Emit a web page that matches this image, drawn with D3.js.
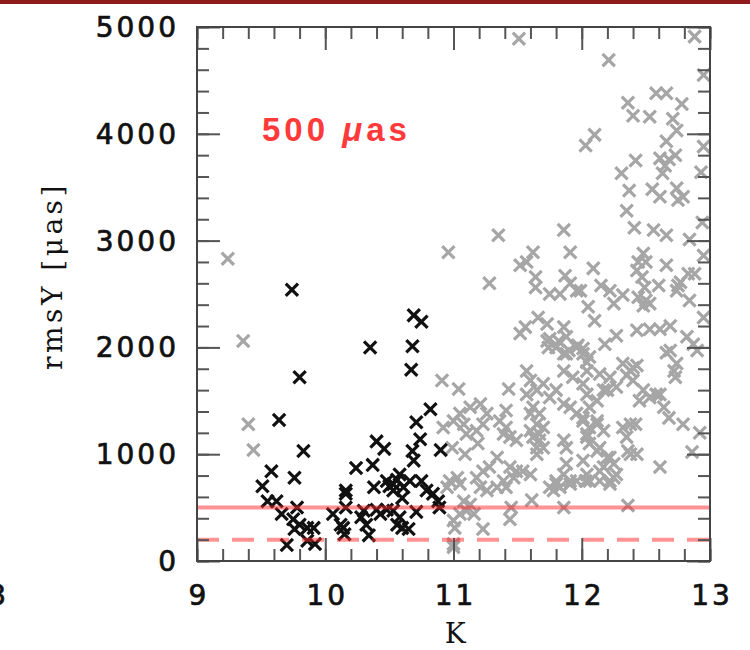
<!DOCTYPE html>
<html>
<head>
<meta charset="utf-8">
<script src="https://cdn.jsdelivr.net/npm/d3@7"></script>
<style>
  body { margin: 0; background: #fff; }
  svg { display: block; }
  .lbl { font-family: "DejaVu Serif", serif; font-size: 28px; fill: #111; }
  .num { font-family: "DejaVu Sans", sans-serif; letter-spacing: 3px; stroke: #111; stroke-width: 0.7px; }
  .ttl { letter-spacing: 3.5px; }
</style>
</head>
<body>
<div id="chart"></div>
<script>
// K magnitude vs rmsY [uas]
var grayPts = [
  [9.24,2830],[9.36,2060],[9.40,1280],[9.44,1040],
  [11.51,4890],[12.88,4910],[12.21,4690],[12.95,4550],[12.58,4380],[12.66,4380],[12.36,4290],[12.40,4170],
  [12.78,4280],[12.53,4160],[12.71,4140],[12.74,4030],[12.10,3990],[12.03,3890],[12.95,3880],[12.66,3930],
  [12.42,3750],[12.61,3770],[12.68,3760],[12.73,3800],[12.65,3700],[12.63,3630],[12.31,3630],[12.93,3640],
  [12.37,3470],[12.55,3480],[12.61,3410],[12.74,3490],[12.79,3410],[12.75,3380],[12.35,3280],[12.41,3120],
  [12.56,3100],[12.66,3050],[12.94,3170],[12.84,3010],[12.95,2860],[11.35,3050],[11.86,3100],[10.96,2890],
  [11.91,2890],[12.48,2880],[12.44,2800],[12.50,2800],[12.43,2720],[12.47,2660],[12.49,2560],[12.44,2470],
  [12.50,2440],[12.53,2410],[12.66,2770],[11.62,2890],[11.57,2800],[11.52,2770],[11.64,2660],[11.64,2560],
  [11.28,2600],[12.09,2740],[12.83,2690],[12.88,2690],[12.77,2610],[12.75,2580],[12.74,2530],[11.87,2670],
  [11.91,2600],[11.96,2530],[11.75,2500],[11.83,2500],[12.15,2580],[12.22,2530],[12.32,2490],[12.60,2580],
  [11.99,2530],[12.05,2380],[12.10,2250],[12.25,2410],[12.48,2390],[12.84,2440],[12.95,2280],
  [11.66,2280],[11.56,2190],[11.52,2130],[11.73,2220],[11.75,2080],[11.74,2000],[11.82,2060],[11.86,2190],
  [11.88,2100],[11.90,1970],[11.97,2020],[11.88,1940],[11.73,2060],[11.80,2000],[11.86,1940],[11.96,2000],
  [12.01,1940],[12.04,1860],[12.18,2030],[12.27,2110],[12.43,2160],[12.53,2170],[12.61,2170],[12.69,2200],
  [12.82,2100],[12.87,2030],[12.90,1970],[12.66,1950],[12.69,1970],[12.74,1850],[12.72,1780],[12.73,1720],
  [12.32,1850],[12.40,1810],[12.35,1740],[12.43,1830],[12.38,1780],[12.40,1690],[12.48,1600],[12.53,1530],
  [12.61,1560],[12.45,1500],[12.58,1560],[12.64,1440],[12.68,1340],[12.79,1280],[12.92,1200],[12.86,1020],
  [12.61,880],[12.01,1990],[12.06,1910],[12.04,1780],[12.14,1750],
  [11.57,1780],[11.60,1690],[11.65,1600],[11.57,1560],[11.70,1660],[11.75,1530],[11.80,1600],[11.86,1470],
  [11.86,1780],[11.93,1720],[12.01,1660],[12.04,1560],[12.12,1500],[12.17,1600],[12.22,1720],[12.27,1630],
  [12.20,1600],[11.91,1440],[11.96,1380],[12.01,1310],[12.06,1250],[12.12,1280],[12.17,1220],[12.06,1440],
  [12.12,1310],[12.32,1250],[12.38,1280],[12.35,1160],[12.38,1000],[12.43,1000],[12.42,1280],[12.36,1030],
  [12.06,1100],[12.12,1030],[12.20,970],[12.25,910],[12.27,810],[12.22,750],[12.17,880],[12.04,1160],
  [12.14,1060],[12.22,970],[12.14,840],[12.25,780],[12.22,720],[12.03,750],
  [11.86,1130],[11.88,1060],[11.88,910],[11.86,810],[11.80,720],[11.91,720],
  [11.67,1380],[11.65,1280],[11.70,1250],[11.62,1160],[11.67,1130],[11.65,1060],[11.60,1380],[12.01,1340],
  [12.04,1190],[11.36,1310],[11.41,1250],[11.44,1160],[11.39,1190],[11.49,1130],[11.43,1610],[11.41,1410],
  [11.21,1470],[11.26,1380],[11.23,1280],[11.13,1440],[11.05,1380],[11.00,1310],[10.92,1250],[11.08,1280],
  [11.10,1190],[11.18,1220],[11.04,1610],[10.91,1690],[11.19,1100],[11.09,1000],[10.99,1060],
  [11.34,970],[11.28,880],[11.23,840],[11.18,780],[11.21,690],[11.26,660],[11.34,690],[11.39,750],
  [11.44,880],[11.49,840],[11.54,840],[11.60,810],[11.47,780],[11.41,690],
  [10.97,750],[11.03,780],[11.05,720],[10.95,690],
  [11.08,560],[11.13,530],[11.10,470],[11.05,440],[11.16,440],[11.00,380],[11.01,310],[11.00,160],
  [11.00,130],[11.23,300],[11.45,500],[11.44,390],[11.61,570],[11.86,500],[12.36,520],
  [11.75,690],[11.80,750],[11.91,750],[11.83,690],[11.78,660],[11.96,750],
  [12.01,940],[12.04,810],[12.06,750],[12.14,750],
  [11.60,1220],[11.67,1190],[11.70,1060],[11.65,1000],[11.62,1440]
];
var blackPts = [
  [9.74,2540],[10.35,2000],[10.69,2300],[10.75,2240],[10.68,2010],[10.67,1790],[9.80,1720],[10.82,1420],
  [9.64,1320],[10.71,1300],[10.74,1140],[10.40,1120],[10.46,1050],[9.83,1030],[10.68,1030],[10.69,940],
  [10.90,1040],[10.24,870],[9.58,840],[10.37,900],[9.76,780],[9.51,700],[10.38,690],
  [10.48,750],[10.53,720],[10.58,810],[10.61,690],[10.66,750],[10.53,660],[10.60,590],[10.56,760],[10.50,700],
  [10.16,660],[10.16,630],[10.79,660],[10.84,630],[10.88,560],[10.75,750],
  [9.55,560],[9.62,560],[9.78,500],[9.66,440],[10.06,440],[10.16,500],[10.30,470],[10.28,410],[10.32,340],
  [10.43,440],[10.53,470],[10.58,410],[10.56,340],[10.71,460],[10.89,500],
  [9.75,390],[9.80,340],[9.76,300],[9.86,310],[9.91,310],[10.12,340],[10.14,310],[10.15,250],[10.34,240],
  [10.60,310],[10.65,300],[9.70,150],[9.86,190],[9.92,160],[10.48,480],[10.40,480]
];
var xMajor = [9, 10, 11, 12, 13];
var yMajor = [0, 1000, 2000, 3000, 4000, 5000];
var limitSolid = 500;
var limitDashed = 200;

var W = 750, H = 650;
var x = d3.scaleLinear().domain([9, 13]).range([197, 710]);
var y = d3.scaleLinear().domain([0, 5000]).range([561, 27]);
var xMinor = d3.range(9, 13.001, 0.2);
var yMinor = d3.range(0, 5001, 200);

var svg = d3.select("#chart").append("svg")
  .attr("width", W).attr("height", H);

// dark red strip along the top edge
svg.append("rect").attr("x", 0).attr("y", 0).attr("width", W).attr("height", 4)
  .attr("fill", "#8e1b1b");

// gray points, then black ones on top
var xMark = d3.symbol().type(d3.symbolX).size(100);
svg.append("g").selectAll("path").data(grayPts).enter().append("path")
  .attr("d", xMark)
  .attr("transform", d => "translate(" + x(d[0]) + "," + y(d[1]) + ")")
  .attr("fill", "none").attr("stroke", "#a6a6a6").attr("stroke-width", 3.2);
svg.append("g").selectAll("path").data(blackPts).enter().append("path")
  .attr("d", xMark)
  .attr("transform", d => "translate(" + x(d[0]) + "," + y(d[1]) + ")")
  .attr("fill", "none").attr("stroke", "#111").attr("stroke-width", 3.2);

// limit lines
svg.append("line")
  .attr("x1", x(9)).attr("x2", x(13))
  .attr("y1", y(limitSolid)).attr("y2", y(limitSolid))
  .attr("stroke", "rgba(255,40,40,0.5)").attr("stroke-width", 4);
svg.append("line")
  .attr("x1", x(9)).attr("x2", x(13))
  .attr("y1", y(limitDashed)).attr("y2", y(limitDashed))
  .attr("stroke", "rgba(255,40,40,0.5)").attr("stroke-width", 4)
  .attr("stroke-dasharray", "22,13");

// ticks on all four sides (inward)
function ticks(axis, tr, vals, len) {
  var g = svg.append("g").attr("transform", tr)
    .call(axis.tickValues(vals).tickSize(-len).tickFormat(""));
  g.select(".domain").remove();
  g.selectAll("line").attr("stroke", "#555").attr("stroke-width", 2);
}
ticks(d3.axisBottom(x), "translate(0," + y(0) + ")", xMinor, 12);
ticks(d3.axisBottom(x), "translate(0," + y(0) + ")", xMajor, 23);
ticks(d3.axisTop(x), "translate(0," + y(5000) + ")", xMinor, 12);
ticks(d3.axisTop(x), "translate(0," + y(5000) + ")", xMajor, 23);
ticks(d3.axisLeft(y), "translate(" + x(9) + ",0)", yMinor, 12);
ticks(d3.axisLeft(y), "translate(" + x(9) + ",0)", yMajor, 23);
ticks(d3.axisRight(y), "translate(" + x(13) + ",0)", yMinor, 12);
ticks(d3.axisRight(y), "translate(" + x(13) + ",0)", yMajor, 23);

svg.append("rect")
  .attr("x", x(9)).attr("y", y(5000))
  .attr("width", x(13) - x(9)).attr("height", y(0) - y(5000))
  .attr("fill", "none").attr("stroke", "#444").attr("stroke-width", 2);

// tick labels
svg.append("g").selectAll("text").data(yMajor).enter().append("text")
  .attr("class", "lbl num")
  .attr("x", 179).attr("y", d => y(d)).attr("dy", "0.36em")
  .attr("text-anchor", "end")
  .text(d => d);
svg.append("g").selectAll("text").data(xMajor).enter().append("text")
  .attr("class", "lbl num")
  .attr("x", d => x(d) + 2).attr("y", 605)
  .attr("text-anchor", "middle")
  .text(d => d);
// edge of the neighbouring panel's label
svg.append("text").attr("class", "lbl num")
  .attr("x", 9).attr("y", 605).attr("text-anchor", "end").text("3");

// axis titles
svg.append("text").attr("class", "lbl ttl")
  .attr("x", 457).attr("y", 643).attr("text-anchor", "middle").text("K");
svg.append("text").attr("class", "lbl ttl")
  .attr("transform", "translate(62,276) rotate(-90)")
  .attr("text-anchor", "middle")
  .text("rmsY [\u03bcas]");

// annotation
svg.append("text")
  .attr("x", 262).attr("y", 141)
  .attr("font-family", "Liberation Sans, Arial, sans-serif")
  .attr("font-size", 33).attr("font-weight", "bold")
  .attr("letter-spacing", 4)
  .attr("fill", "#ff3a3a")
  .html("500 <tspan font-style='italic'>\u03bc</tspan>as");
</script>
</body>
</html>
